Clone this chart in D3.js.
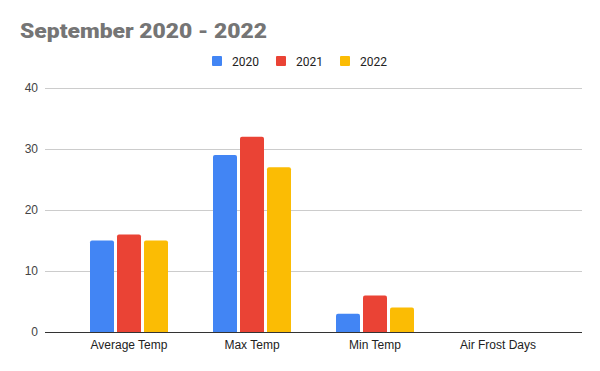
<!DOCTYPE html>
<html>
<head>
<meta charset="utf-8">
<script src="https://cdn.jsdelivr.net/npm/d3@7"></script>
<style>
  body { margin: 0; background: #fff; }
  svg { display: block; font-family: 'Liberation Sans', Arial, sans-serif; }
</style>
</head>
<body>
<div id="chart"></div>
<script>
// chart data
var categories = ["Average Temp", "Max Temp", "Min Temp", "Air Frost Days"];
var years = ["2020", "2021", "2022"];
var values2020 = [15, 29, 3, 0];
var values2021 = [16, 32, 6, 0];
var values2022 = [15, 27, 4, 0];
var yTicks = [0, 10, 20, 30, 40];
var colors = ["#4285f4", "#ea4335", "#fbbc04"];

var seriesValues = [values2020, values2021, values2022];

var width = 600, height = 371;
var svg = d3.select("#chart").append("svg")
    .attr("width", width)
    .attr("height", height);

// title
svg.append("text")
    .attr("x", 20)
    .attr("y", 38)
    .attr("font-size", "21px")
    .attr("font-weight", "900")
    .attr("fill", "#757575")
    .attr("textLength", 247)
    .attr("lengthAdjust", "spacingAndGlyphs")
    .style("font-family", "Roboto, 'Liberation Sans', sans-serif")
    .text("September 2020 - 2022");

// legend
var legendX = [212, 276, 340];
years.forEach(function(yr, i){
    var g = svg.append("g").attr("transform", "translate(" + legendX[i] + ",56)");
    g.append("rect").attr("width", 10).attr("height", 10).attr("rx", 1).attr("fill", colors[i]);
    g.append("text").attr("x", 20).attr("y", 9.5)
        .attr("font-size", "12px").attr("fill", "#222")
        .style("font-family", "Roboto, sans-serif").text(yr);
});

// scales
var y = d3.scaleLinear().domain([0, 40]).range([332, 88]);
var x0 = d3.scaleBand().domain(categories).range([67.5, 559.5]);
var x1 = d3.scaleBand().domain(years).range([-39, 39]).paddingInner(1 / 9);

// gridlines
svg.append("g").selectAll("line").data(yTicks.slice(1)).join("line")
    .attr("x1", 45).attr("x2", 582)
    .attr("y1", function(d){ return y(d); })
    .attr("y2", function(d){ return y(d); })
    .attr("stroke", "#cccccc").attr("stroke-width", 1)
    .attr("shape-rendering", "crispEdges");

// y tick labels
svg.append("g").selectAll("text").data(yTicks).join("text")
    .attr("x", 38)
    .attr("y", function(d){ return y(d) + 4; })
    .attr("text-anchor", "end")
    .attr("font-size", "12px")
    .attr("fill", "#444")
    .text(function(d){ return d; });

// bars
var groups = svg.append("g").selectAll("g").data(categories).join("g")
    .attr("transform", function(d){ return "translate(" + (x0(d) + x0.bandwidth() / 2) + ",0)"; });

groups.selectAll("rect")
    .data(function(c, ci){ return years.map(function(yr, si){ return { year: yr, value: seriesValues[si][ci], color: colors[si] }; }); })
    .join("rect")
    .filter(function(d){ return d.value > 0; })
    .attr("x", function(d){ return x1(d.year); })
    .attr("y", function(d){ return y(d.value); })
    .attr("width", x1.bandwidth())
    .attr("height", function(d){ return y(0) - y(d.value) + 2; })
    .attr("rx", 2)
    .attr("fill", function(d){ return d.color; });

// baseline
svg.append("line")
    .attr("x1", 45).attr("x2", 582)
    .attr("y1", 332.5).attr("y2", 332.5)
    .attr("stroke", "#333").attr("stroke-width", 1);

// cover bar bottoms below baseline
svg.append("rect").attr("x", 45).attr("y", 333).attr("width", 540).attr("height", 4).attr("fill", "#fff");

// category labels
svg.append("g").selectAll("text").data(categories).join("text")
    .attr("x", function(d){ return x0(d) + x0.bandwidth() / 2; })
    .attr("y", 349)
    .attr("text-anchor", "middle")
    .attr("font-size", "12px")
    .attr("fill", "#222")
    .text(function(d){ return d; });
</script>
</body>
</html>
